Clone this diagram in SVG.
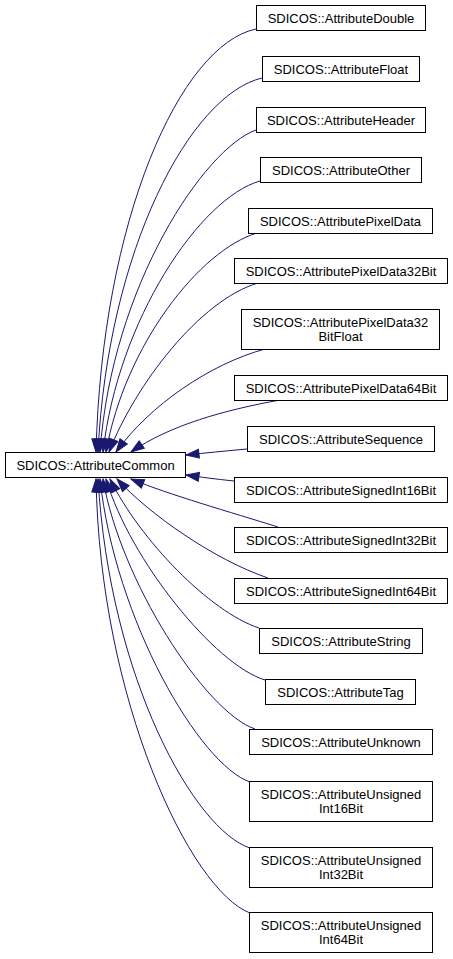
<svg xmlns="http://www.w3.org/2000/svg" width="453" height="959" viewBox="0 0 453 959">
<style>
.n rect{fill:#fff;stroke:#000;stroke-width:1}
.n text{font-family:"Liberation Sans",Arial,sans-serif;font-size:13px;fill:#000;text-anchor:middle}
.e path{fill:none;stroke:#191970;stroke-width:1;marker-end:url(#ah)}
</style>
<defs>
<marker id="ah" markerUnits="userSpaceOnUse" markerWidth="16" markerHeight="12" refX="13" refY="4.5" orient="auto" overflow="visible">
<path d="M0,0 L13,4.5 L0,9 Z" fill="#191970" stroke="#191970" stroke-width="1"/>
</marker>
</defs>
<rect width="453" height="959" fill="#fff"/>
<g id="edges" class="e">
<path d="M256,29 C180,45 102,220 96,452"/>
<path d="M262,78 C190,95 108,250 98,452"/>
<path d="M256,130 C205,148 112,285 100,452"/>
<path d="M260,181 C200,198 118,320 103,452"/>
<path d="M257,233 C200,250 125,345 106,452"/>
<path d="M258,283 C200,300 135,385 109,452"/>
<path d="M265,349 C210,364 150,405 116,452"/>
<path d="M280,400 C225,410 170,425 131,452"/>
<path d="M247,449 C225,451 205,453 186,455"/>
<path d="M234,481 C215,479 200,477 186,475"/>
<path d="M278,527 C230,512 170,495 131,479"/>
<path d="M268,578 C215,560 150,515 117,479"/>
<path d="M259,628 C210,612 140,540 110,479"/>
<path d="M265,680 C215,665 130,560 106,479"/>
<path d="M255,729 C205,712 120,580 103,479"/>
<path d="M250,782 C200,765 115,620 100,479"/>
<path d="M250,848 C195,830 110,680 98,479"/>
<path d="M250,913 C190,890 100,700 96,479"/>
</g>
<g id="AttributeCommon" class="n"><rect x="5.5" y="452.5" width="180" height="25"/><text x="95.5" y="469.5">SDICOS::AttributeCommon</text></g>
<g id="AttributeDouble" class="n"><rect x="256.5" y="5.5" width="169" height="25"/><text x="341" y="22.5">SDICOS::AttributeDouble</text></g>
<g id="AttributeFloat" class="n"><rect x="262.5" y="56.5" width="157" height="25"/><text x="341" y="73.5">SDICOS::AttributeFloat</text></g>
<g id="AttributeHeader" class="n"><rect x="256.5" y="107.5" width="169" height="25"/><text x="341" y="124.5">SDICOS::AttributeHeader</text></g>
<g id="AttributeOther" class="n"><rect x="260.5" y="157.5" width="161" height="25"/><text x="341" y="174.5">SDICOS::AttributeOther</text></g>
<g id="AttributePixelData" class="n"><rect x="248.5" y="208.5" width="184" height="25"/><text x="340.5" y="225.5">SDICOS::AttributePixelData</text></g>
<g id="AttributePixelData32Bit" class="n"><rect x="234.5" y="258.5" width="213" height="25"/><text x="341" y="275.5">SDICOS::AttributePixelData32Bit</text></g>
<g id="AttributePixelData32BitFloat" class="n"><rect x="241.5" y="309.5" width="198" height="40"/><text x="340.5" y="327">SDICOS::AttributePixelData32</text><text x="340.5" y="341">BitFloat</text></g>
<g id="AttributePixelData64Bit" class="n"><rect x="234.5" y="375.5" width="213" height="25"/><text x="341" y="392.5">SDICOS::AttributePixelData64Bit</text></g>
<g id="AttributeSequence" class="n"><rect x="247.5" y="426.5" width="187" height="25"/><text x="341" y="443.5">SDICOS::AttributeSequence</text></g>
<g id="AttributeSignedInt16Bit" class="n"><rect x="234.5" y="477.5" width="213" height="25"/><text x="341" y="494.5">SDICOS::AttributeSignedInt16Bit</text></g>
<g id="AttributeSignedInt32Bit" class="n"><rect x="234.5" y="527.5" width="213" height="25"/><text x="341" y="544.5">SDICOS::AttributeSignedInt32Bit</text></g>
<g id="AttributeSignedInt64Bit" class="n"><rect x="234.5" y="578.5" width="213" height="25"/><text x="341" y="595.5">SDICOS::AttributeSignedInt64Bit</text></g>
<g id="AttributeString" class="n"><rect x="259.5" y="628.5" width="163" height="25"/><text x="341" y="645.5">SDICOS::AttributeString</text></g>
<g id="AttributeTag" class="n"><rect x="265.5" y="679.5" width="150" height="25"/><text x="340.5" y="696.5">SDICOS::AttributeTag</text></g>
<g id="AttributeUnknown" class="n"><rect x="249.5" y="729.5" width="183" height="25"/><text x="341" y="746.5">SDICOS::AttributeUnknown</text></g>
<g id="AttributeUnsignedInt16Bit" class="n"><rect x="249.5" y="781.5" width="183" height="40"/><text x="341" y="799">SDICOS::AttributeUnsigned</text><text x="341" y="813">Int16Bit</text></g>
<g id="AttributeUnsignedInt32Bit" class="n"><rect x="249.5" y="847.5" width="183" height="40"/><text x="341" y="865">SDICOS::AttributeUnsigned</text><text x="341" y="879">Int32Bit</text></g>
<g id="AttributeUnsignedInt64Bit" class="n"><rect x="249.5" y="912.5" width="183" height="40"/><text x="341" y="930">SDICOS::AttributeUnsigned</text><text x="341" y="944">Int64Bit</text></g>
</svg>
